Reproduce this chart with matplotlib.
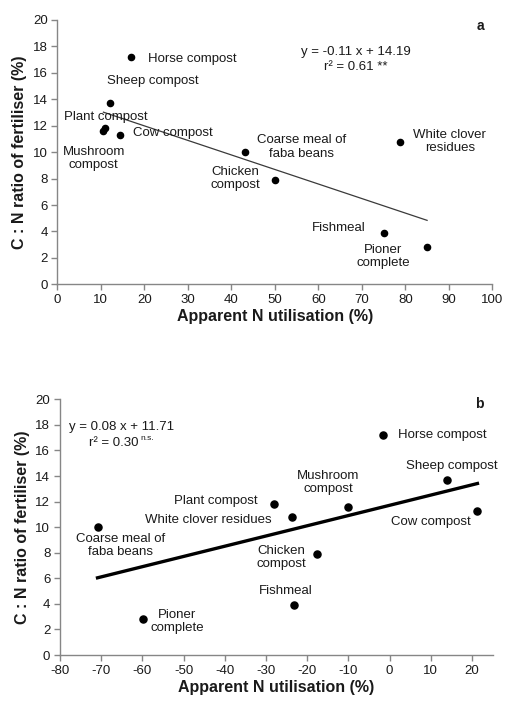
import numpy as np
import matplotlib
matplotlib.use('Agg')
import matplotlib.pyplot as plt

plt.rcParams['font.family'] = ['Liberation Sans', 'DejaVu Sans']
plt.rcParams['axes.unicode_minus'] = False

# Fertiliser names and their C:N ratio (same in both panels)
names = ['Horse compost', 'Sheep compost', 'Plant compost', 'Mushroom compost',
         'Cow compost', 'Coarse meal of faba beans', 'Chicken compost',
         'White clover residues', 'Fishmeal', 'Pioner complete']
cn_ratio = [17.2, 13.7, 11.8, 11.6, 11.3, 10.0, 7.9, 10.8, 3.9, 2.8]

# Apparent N utilisation, panel a and panel b
util_a = [16.9, 12.0, 11.0, 10.6, 14.3, 43.2, 50.1, 78.8, 75.2, 85.0]
util_b = [-1.7, 13.8, -28.1, -10.0, 21.3, -70.9, -17.7, -23.8, -23.1, -59.9]

# Regression coefficients (slope, intercept)
fit_a = (-0.11, 14.19)
fit_b = (0.08, 11.71)

# Label text and placement for each point: (text, x, y, ha)
labels_a = [
    ('Horse compost', 20.8, 17.05, 'left'),
    ('Sheep compost', 11.5, 15.4, 'left'),
    ('Plant compost', 1.5, 12.64, 'left'),
    ('Mushroom\ncompost', 8.4, 9.5, 'center'),
    ('Cow compost', 17.3, 11.43, 'left'),
    ('Coarse meal of\nfaba beans', 56.2, 10.4, 'center'),
    ('Chicken\ncompost', 41.0, 8.02, 'center'),
    ('White clover\nresidues', 90.2, 10.8, 'center'),
    ('Fishmeal', 64.8, 4.28, 'center'),
    ('Pioner\ncomplete', 74.9, 2.1, 'center'),
]
labels_b = [
    ('Horse compost', 2.0, 17.2, 'left'),
    ('Sheep compost', 15.1, 14.8, 'center'),
    ('Plant compost', -42.1, 12.03, 'center'),
    ('Mushroom\ncompost', -14.9, 13.47, 'center'),
    ('Cow compost', 10.0, 10.43, 'center'),
    ('Coarse meal of\nfaba beans', -65.3, 8.58, 'center'),
    ('Chicken\ncompost', -26.3, 7.65, 'center'),
    ('White clover residues', -44.0, 10.54, 'center'),
    ('Fishmeal', -25.1, 5.0, 'center'),
    ('Pioner\ncomplete', -51.5, 2.62, 'center'),
]

AXIS_GREY = '#868686'
TEXT = '#1a1a1a'
FS = 9.5


def style_axes(ax, xlim, xticks):
    ax.set_xlim(*xlim)
    ax.set_ylim(0, 20)
    ax.set_xticks(xticks)
    ax.set_yticks(np.arange(0, 21, 2))
    for side in ('top', 'right'):
        ax.spines[side].set_visible(False)
    for side in ('left', 'bottom'):
        ax.spines[side].set_color(AXIS_GREY)
        ax.spines[side].set_linewidth(1.0)
    ax.tick_params(direction='out', length=4, width=1.0, color=AXIS_GREY,
                   labelsize=FS, labelcolor=TEXT, pad=3)
    ax.set_xlabel('Apparent N utilisation (%)', fontsize=11.5,
                  fontweight='bold', color=TEXT, labelpad=2)
    ax.set_ylabel('C : N ratio of fertiliser (%)', fontsize=11.5,
                  fontweight='bold', color=TEXT, labelpad=4)


fig = plt.figure(figsize=(5.06, 7.01), dpi=100)
ax_a = fig.add_axes([0.1133, 0.5944, 0.8597, 0.3771])
ax_b = fig.add_axes([0.1186, 0.0656, 0.8551, 0.3648])

# --- panel a ---
style_axes(ax_a, (0, 100), np.arange(0, 101, 10))
xa = np.array([min(util_a), max(util_a)])
ax_a.plot(xa, fit_a[0] * xa + fit_a[1], color='#3a3a3a', lw=0.9, zorder=2)
ax_a.scatter(util_a, cn_ratio, s=20, color='black', zorder=3)
for txt, x, y, ha in labels_a:
    ax_a.text(x, y, txt, ha=ha, va='center', fontsize=FS, color=TEXT,
              linespacing=1.15)
ax_a.text(68.7, 17.56, 'y = -0.11 x + 14.19', ha='center', va='center',
          fontsize=FS, color=TEXT)
ax_a.text(68.7, 16.43, 'r² = 0.61 **', ha='center', va='center',
          fontsize=FS, color=TEXT)
ax_a.text(97.2, 19.55, 'a', ha='center', va='center', fontsize=10,
          fontweight='bold', color=TEXT)

# --- panel b ---
style_axes(ax_b, (-80, 25), np.arange(-80, 21, 10))
xb = np.array([min(util_b), max(util_b)])
ax_b.plot(xb, fit_b[0] * xb + fit_b[1], color='black', lw=2.4, zorder=2)
ax_b.scatter(util_b, cn_ratio, s=26, color='black', zorder=3)
for txt, x, y, ha in labels_b:
    ax_b.text(x, y, txt, ha=ha, va='center', fontsize=FS, color=TEXT,
              linespacing=1.15)
ax_b.text(-77.7, 17.8, 'y = 0.08 x + 11.71', ha='left', va='center',
          fontsize=FS, color=TEXT)
r2 = ax_b.text(-72.9, 16.57, 'r² = 0.30', ha='left', va='center',
               fontsize=FS, color=TEXT)
ax_b.annotate('n.s.', xy=(1.0, 0.85), xycoords=r2, xytext=(1.5, 0),
              textcoords='offset points', ha='left', va='center',
              fontsize=6, color=TEXT)
ax_b.text(21.8, 19.6, 'b', ha='center', va='center', fontsize=10,
          fontweight='bold', color=TEXT)

fig.savefig('out.png', dpi=100)
